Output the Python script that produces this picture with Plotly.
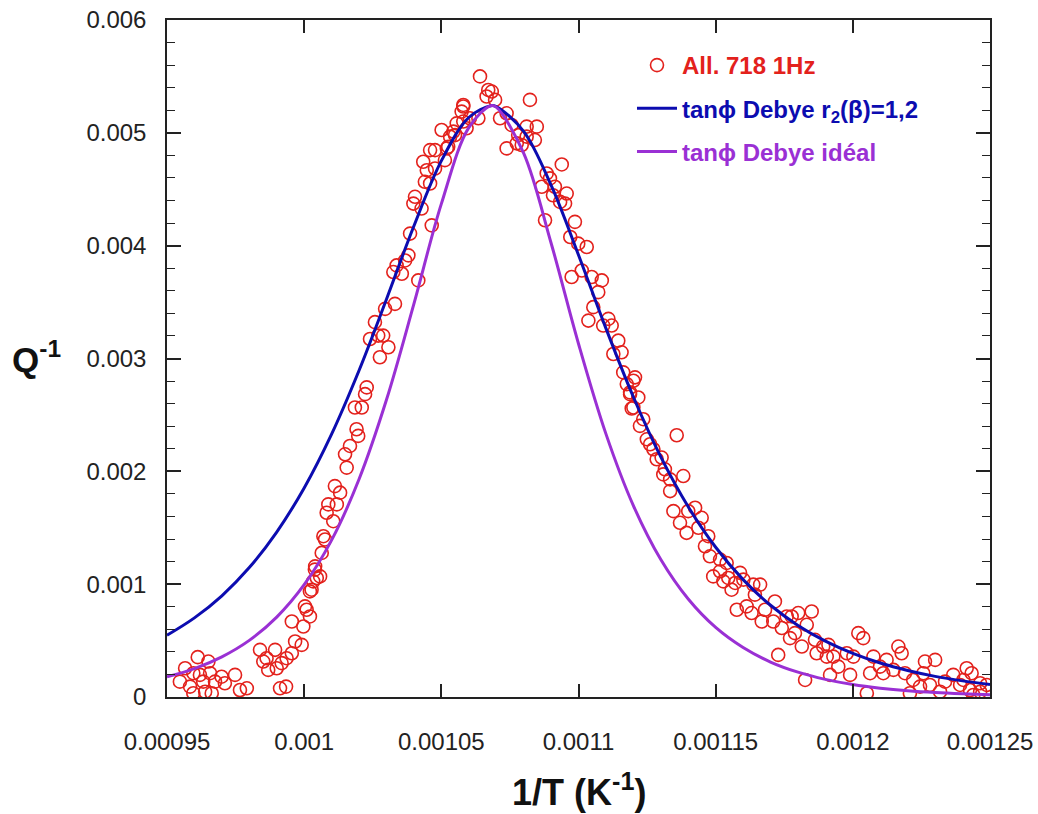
import plotly.graph_objects as go

# ---- measured points (All. 718, 1 Hz) ----
meas_x = [
    0.0009612, 0.0009651, 0.0009566, 0.0009596, 0.0009620, 0.0009657, 0.0009547, 0.0009584,
    0.0009632, 0.0009699, 0.0009748, 0.0009675, 0.0009711, 0.0009596, 0.0009639, 0.0009663,
    0.0009766, 0.0009791, 0.0009839, 0.0009863, 0.0009894, 0.0009851, 0.0009869, 0.0009900,
    0.0009918, 0.0009936, 0.0009955, 0.0009967, 0.0009991, 0.0009912, 0.0009934, 0.0009955,
    0.0009997, 0.0010009, 0.0010021, 0.0010027, 0.0010046, 0.0010039, 0.0010064, 0.0010076,
    # rising flank
    0.0010580, 0.0010574, 0.0010556, 0.0010580, 0.0010501, 0.0010532, 0.0010544, 0.0010520,
    0.0010513, 0.0010459, 0.0010434, 0.0010447, 0.0010477, 0.0010440, 0.0010404, 0.0010398,
    0.0010428, 0.0010465, 0.0010386, 0.0010380, 0.0010368, 0.0010337, 0.0010325, 0.0010356,
    0.0010416, 0.0010331, 0.0010295, 0.0010258, 0.0010240, 0.0010270, 0.0010288, 0.0010307,
    0.0010276, 0.0010228, 0.0010222, 0.0010185, 0.0010210, 0.0010191, 0.0010197, 0.0010167,
    0.0010149, 0.0010155, 0.0010112, 0.0010131, 0.0010119, 0.0010088, 0.0010082, 0.0010106,
    0.0010070, 0.0010040, 0.0010058, 0.0010033, 0.0010021, 0.0010003,
    # peak and upper right flank
    0.0010641, 0.0010671, 0.0010684, 0.0010665, 0.0010696, 0.0010580, 0.0010635, 0.0010604,
    0.0010592, 0.0010550, 0.0010525, 0.0010477, 0.0010459, 0.0010714, 0.0010738, 0.0010756,
    0.0010811, 0.0010848, 0.0010823, 0.0010780, 0.0010811, 0.0010841, 0.0010738, 0.0010775,
    0.0010793, 0.0010939, 0.0010884, 0.0010896, 0.0010866, 0.0010914, 0.0010957, 0.0010907,
    0.0010933, 0.0010951, 0.0010878, 0.0010987, 0.0010970, 0.0010999, 0.0011030, 0.0011012,
    0.0010975, 0.0011048, 0.0011085, 0.0011072, 0.0011054, 0.0011036, 0.0011090, 0.0011109,
    0.0011121, 0.0011145, 0.0011127, 0.0011157, 0.0011163, 0.0011206, 0.0011176, 0.0011218,
    0.0011188, 0.0011200,
    # right tail
    0.0011200, 0.0011188, 0.0011194, 0.0011236, 0.0011224, 0.0011358, 0.0011249, 0.0011261,
    0.0011273, 0.0011303, 0.0011285, 0.0011315, 0.0011309, 0.0011334, 0.0011382, 0.0011334,
    0.0011346, 0.0011400, 0.0011425, 0.0011449, 0.0011370, 0.0011437, 0.0011394, 0.0011473,
    0.0011461, 0.0011479, 0.0011516, 0.0011540, 0.0011491, 0.0011516, 0.0011528, 0.0011546,
    0.0011589, 0.0011571, 0.0011558, 0.0011601, 0.0011637, 0.0011662, 0.0011643, 0.0011577,
    0.0011613, 0.0011631, 0.0011716, 0.0011680, 0.0011668, 0.0011710, 0.0011741, 0.0011759,
    0.0011777, 0.0011801, 0.0011850, 0.0011832, 0.0011789, 0.0011814, 0.0011771, 0.0011728,
    0.0011862, 0.0011868, 0.0011892, 0.0011911, 0.0011905, 0.0011929, 0.0011947, 0.0011917,
    0.0011826, 0.0011990, 0.0011978, 0.0012002, 0.0012020, 0.0012038, 0.0012075, 0.0012063,
    0.0012099, 0.0012051, 0.0012111, 0.0012123, 0.0012166, 0.0012178, 0.0012148, 0.0012190,
    0.0012220, 0.0012208, 0.0012245, 0.0012263, 0.0012300, 0.0012257, 0.0012281, 0.0012318,
    0.0012336, 0.0012366, 0.0012403, 0.0012415, 0.0012391, 0.0012433, 0.0012464, 0.0012488,
    0.0012439, 0.0012427, 0.0012464,
]
meas_y = [
    0.000353, 0.000314, 0.000255, 0.000211, 0.000196, 0.000211, 0.000136, 0.000092,
    0.000136, 0.000180, 0.000196, 0.000136, 0.000122, 0.000033, 0.000047, 0.000033,
    0.000062, 0.000077, 0.000418, 0.000344, 0.000418, 0.000314, 0.000240, 0.000255,
    0.000300, 0.000344, 0.000388, 0.000492, 0.000462, 0.000077, 0.000092, 0.000669,
    0.000625, 0.000773, 0.000714, 0.000951, 0.001055, 0.001129, 0.001277, 0.001396,
    # rising flank
    0.005233, 0.005188, 0.005084, 0.005100, 0.005025, 0.004966, 0.005011, 0.004862,
    0.004758, 0.004847, 0.004744, 0.004669, 0.004684, 0.004566, 0.004433, 0.004373,
    0.004329, 0.004180, 0.004107, 0.003914, 0.003869, 0.003825, 0.003766, 0.003751,
    0.003692, 0.003484, 0.003440, 0.003322, 0.003173, 0.003203, 0.003203, 0.003100,
    0.003011, 0.002744, 0.002684, 0.002566, 0.002566, 0.002373, 0.002314, 0.002225,
    0.002151, 0.002033, 0.001869, 0.001811, 0.001707, 0.001707, 0.001633, 0.001558,
    0.001425, 0.001158, 0.001069, 0.001025, 0.000936, 0.000803,
    # peak and upper right flank
    0.005500, 0.005380, 0.005366, 0.005322, 0.005292, 0.005247, 0.005129, 0.005129,
    0.005040, 0.004980, 0.004877, 0.004847, 0.004551, 0.005129, 0.005173, 0.005070,
    0.005055, 0.005055, 0.005292, 0.004980, 0.004966, 0.004936, 0.004862, 0.004907,
    0.004892, 0.004720, 0.004640, 0.004596, 0.004522, 0.004522, 0.004462, 0.004447,
    0.004388, 0.004373, 0.004225, 0.004211, 0.004077, 0.004018, 0.003988, 0.003780,
    0.003722, 0.003722, 0.003692, 0.003588, 0.003455, 0.003336, 0.003292, 0.003351,
    0.003292, 0.003158, 0.003040, 0.003055, 0.002877, 0.002833, 0.002773, 0.002655,
    0.002684, 0.002566,
    # right tail
    0.002803, 0.002700, 0.002557, 0.002462, 0.002403, 0.002320, 0.002284, 0.002240,
    0.002196, 0.002122, 0.002107, 0.002018, 0.001973, 0.001929, 0.001958, 0.001825,
    0.001647, 0.001647, 0.001677, 0.001588, 0.001544, 0.001500, 0.001455, 0.001425,
    0.001336, 0.001247, 0.001218, 0.001188, 0.001069, 0.001114, 0.001025, 0.001055,
    0.001100, 0.001011, 0.000951, 0.001040, 0.000996, 0.000996, 0.000907, 0.000773,
    0.000803, 0.000744, 0.000847, 0.000773, 0.000669, 0.000669, 0.000611, 0.000714,
    0.000714, 0.000744, 0.000758, 0.000640, 0.000566, 0.000447, 0.000522, 0.000373,
    0.000507, 0.000388, 0.000447, 0.000462, 0.000358, 0.000358, 0.000269, 0.000196,
    0.000151, 0.000196, 0.000388, 0.000358, 0.000566, 0.000522, 0.000358, 0.000211,
    0.000269, 0.000033, 0.000211, 0.000329, 0.000447, 0.000388, 0.000240, 0.000211,
    0.000151, 0.000033, 0.000092, 0.000314, 0.000329, 0.000211, 0.000107, 0.000047,
    0.000136, 0.000196, 0.000151, 0.000255, 0.000107, 0.000211, 0.000122, 0.000107,
    0.000018, 0.000062, 0.000047,
]

# ---- model curves ----
curve_x = [
    0.00095, 0.00096, 0.00097, 0.00098, 0.00099, 0.00100, 0.00101, 0.00102,
    0.00103, 0.00104, 0.00105, 0.00106, 0.001068, 0.00107, 0.00108, 0.00109,
    0.00110, 0.00111, 0.00112, 0.00113, 0.00114, 0.00115, 0.00116, 0.00117,
    0.00118, 0.00119, 0.00120, 0.00121, 0.00122, 0.00123, 0.00124, 0.00125,
]
debye_r2_y = [
    0.000547, 0.000701, 0.000897, 0.001147, 0.001462, 0.001853, 0.002330, 0.002894,
    0.003525, 0.004174, 0.004751, 0.005136, 0.005240, 0.005233, 0.005013, 0.004536,
    0.003918, 0.003267, 0.002659, 0.002128, 0.001686, 0.001327, 0.001040, 0.000813,
    0.000634, 0.000495, 0.000386, 0.000301, 0.000235, 0.000183, 0.000143, 0.000110,
]
debye_ideal_y = [
    0.000179, 0.000252, 0.000356, 0.000502, 0.000708, 0.000995, 0.001390, 0.001930,
    0.002634, 0.003484, 0.004370, 0.005046, 0.005240, 0.005228, 0.004820, 0.004024,
    0.003131, 0.002332, 0.001696, 0.001218, 0.000868, 0.000616, 0.000438, 0.000310,
    0.000220, 0.000156, 0.000110, 0.000078, 0.000055, 0.000039, 0.000028, 0.000020,
]

x_ticks = [0.00095, 0.001, 0.00105, 0.0011, 0.00115, 0.0012, 0.00125]
x_tick_text = ["0.00095", "0.001", "0.00105", "0.0011", "0.00115", "0.0012", "0.00125"]
y_ticks = [0, 0.001, 0.002, 0.003, 0.004, 0.005, 0.006]
y_tick_text = ["0", "0.001", "0.002", "0.003", "0.004", "0.005", "0.006"]

RED = "#e3211c"
BLUE = "#0c0cb0"
PURPLE = "#9a30d4"
FONT = "Liberation Sans, Arial, sans-serif"

fig = go.Figure()
fig.add_trace(go.Scatter(
    x=meas_x, y=meas_y, mode="markers",
    name=f"<b><span style='color:{RED}'>All. 718 1Hz</span></b>",
    marker=dict(symbol="circle-open", size=13, color=RED, line=dict(width=1.6, color=RED)),
    legendgroup="a",
))
fig.add_trace(go.Scatter(
    x=curve_x, y=debye_r2_y, mode="lines", line_shape="spline",
    name=f"<b><span style='color:{BLUE}'>tanϕ Debye r<sub>2</sub>(β)=1,2</span></b>",
    line=dict(color=BLUE, width=3), legendgroup="b",
))
fig.add_trace(go.Scatter(
    x=curve_x, y=debye_ideal_y, mode="lines", line_shape="spline",
    name=f"<b><span style='color:{PURPLE}'>tanϕ Debye idéal</span></b>",
    line=dict(color=PURPLE, width=3), legendgroup="c",
))

axis_common = dict(
    showline=True, linecolor="#222222", linewidth=1.5, mirror="ticks",
    ticks="inside", tickcolor="#222222", tickwidth=1.5, showgrid=False, zeroline=False,
    automargin=False,
    tickfont=dict(family=FONT, size=24, color="#222222"),
)

fig.update_xaxes(
    range=[0.00095, 0.00125], tickmode="array", tickvals=x_ticks, ticktext=x_tick_text,
    ticklen=13, ticklabelstandoff=22, **axis_common,
)
fig.update_yaxes(
    range=[0, 0.006], tickmode="array", tickvals=y_ticks, ticktext=y_tick_text,
    ticklen=14, ticklabelstandoff=14,
    minor=dict(dtick=0.0002, ticks="inside", ticklen=8, tickcolor="#222222", tickwidth=1.3),
    **axis_common,
)

fig.add_annotation(
    text="<b>Q<sup>-1</sup></b>", xref="paper", yref="paper",
    x=-0.159, y=0.502, xanchor="center", yanchor="middle",
    showarrow=False, font=dict(family=FONT, size=35, color="#111111"),
)
fig.add_annotation(
    text="<b>1/T (K<sup>-1</sup>)</b>", xref="paper", yref="paper",
    x=0.5, y=-0.137, xanchor="center", yanchor="middle",
    showarrow=False, font=dict(family=FONT, size=36, color="#111111"),
)

fig.update_layout(
    width=1038, height=814,
    margin=dict(l=167, r=48, t=20, b=117),
    paper_bgcolor="white", plot_bgcolor="white",
    showlegend=True,
    legend=dict(
        x=0.565, y=0.966, xanchor="left", yanchor="top",
        bgcolor="rgba(0,0,0,0)", borderwidth=0,
        font=dict(family=FONT, size=24),
        traceorder="grouped", tracegroupgap=9, itemwidth=40,
    ),
)

fig.write_html(
    "out.html",
    config={"displayModeBar": False},
    post_script="document.body.style.margin='0'; document.body.style.overflow='hidden';",
)
